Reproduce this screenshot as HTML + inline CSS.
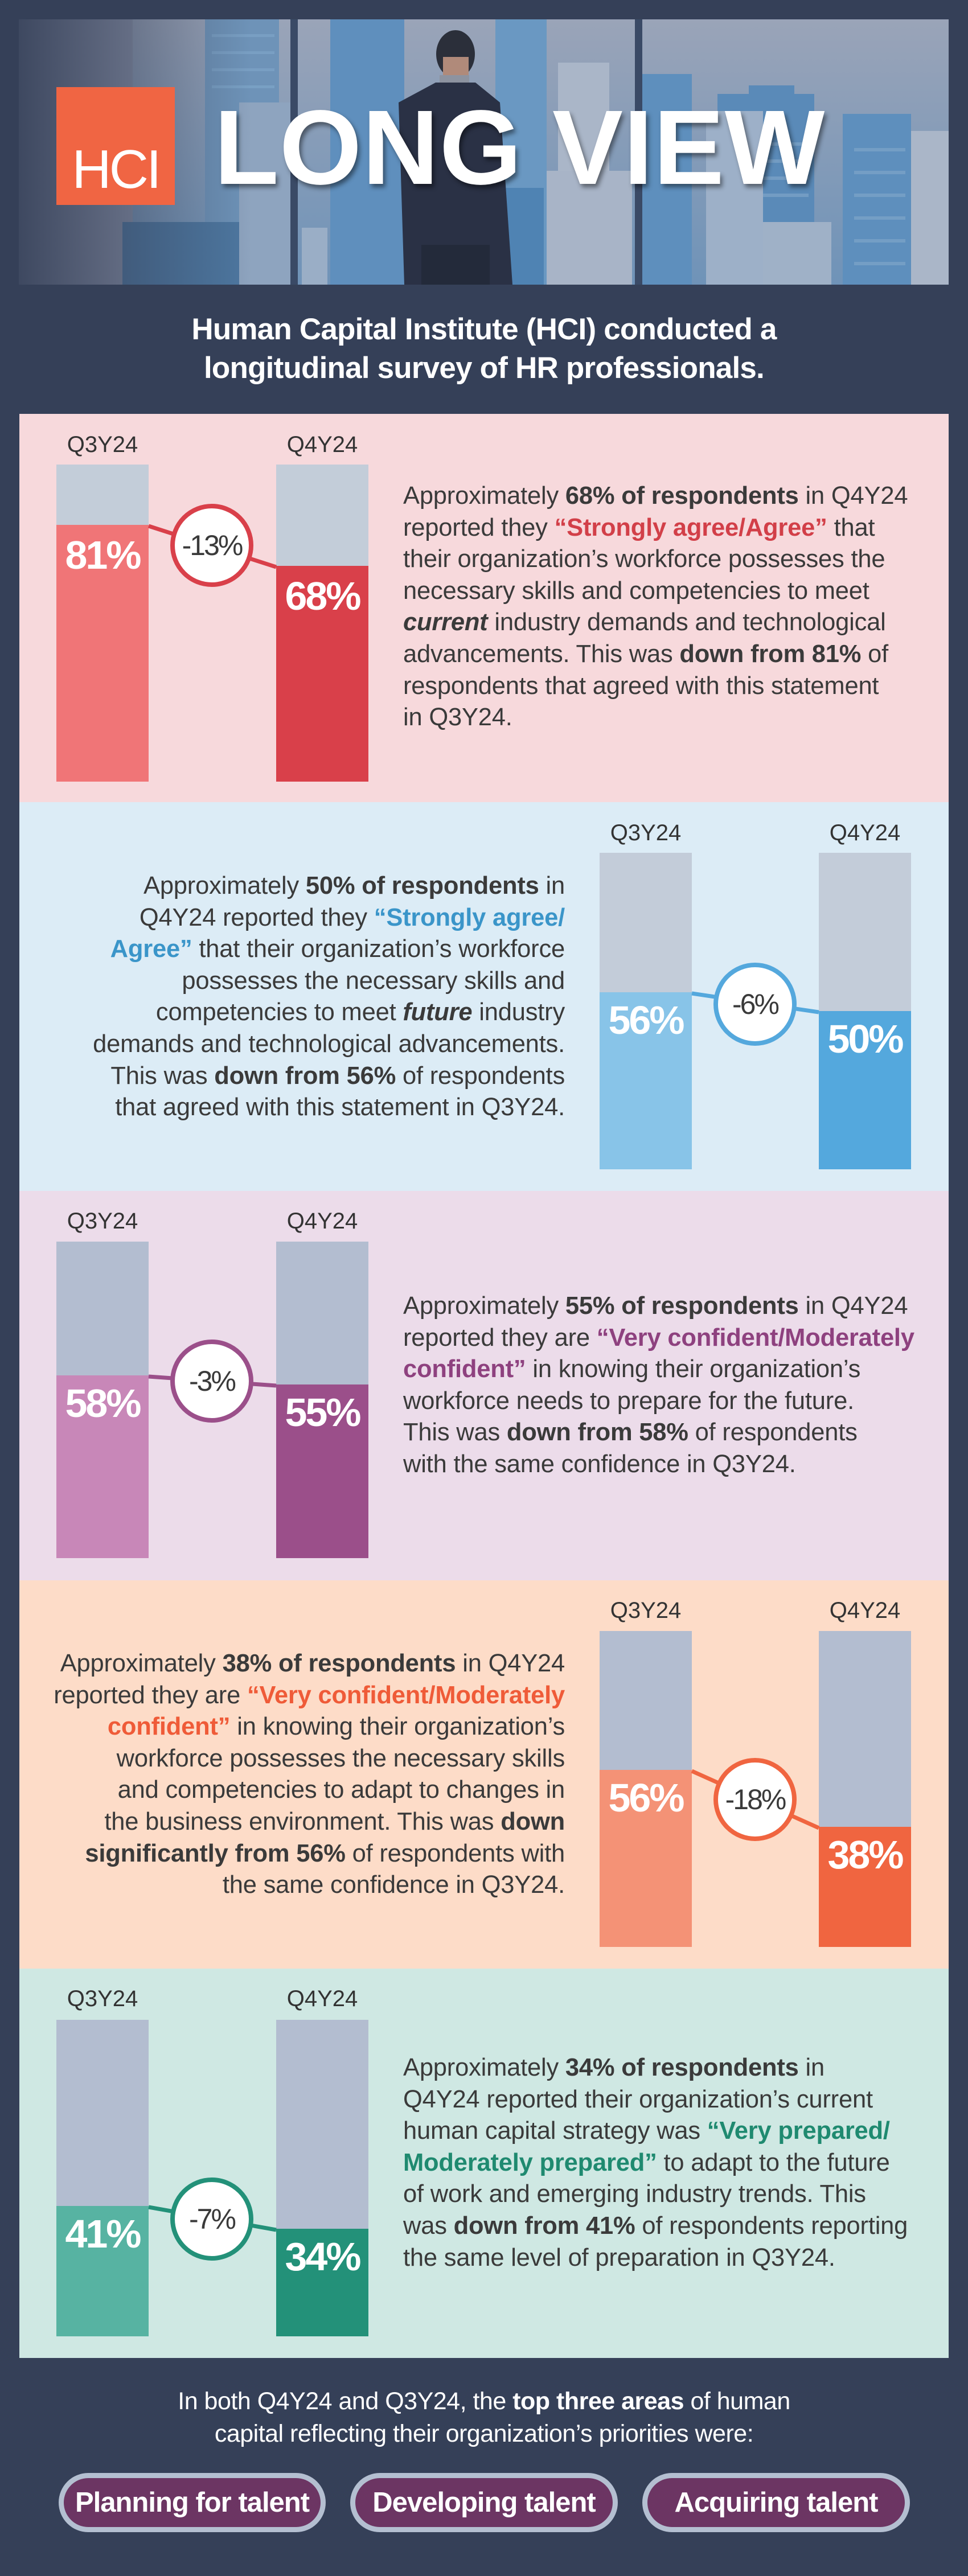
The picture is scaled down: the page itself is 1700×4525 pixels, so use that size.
<!DOCTYPE html>
<html><head><meta charset="utf-8">
<style>
*{margin:0;padding:0;box-sizing:border-box}
body{width:1700px;height:4525px;background:#354058;position:relative;overflow:hidden;font-family:"Liberation Sans",sans-serif;color:#3a3a3a}
.abs{position:absolute}
.sec{position:absolute;left:34px;width:1632px}
.lbl{position:absolute;font-size:40px;width:200px;text-align:center;color:#333;line-height:40px}
.bar{position:absolute;width:162px}
.pct{position:absolute;width:162px;text-align:center;color:#fff;font-weight:bold;font-size:70px;letter-spacing:-3px;line-height:70px}
.txt{position:absolute;font-size:43.5px;line-height:55.6px;white-space:nowrap;letter-spacing:-0.2px}
.txt b{font-weight:bold}
.circ{position:absolute;width:146px;height:146px;border-radius:50%;background:#fff;border:8px solid;text-align:center;line-height:130px;font-size:50px;color:#3a3a3a;letter-spacing:-3px}
.pill{position:absolute;top:4344px;height:104px;border-radius:52px;background:#b4bfd1;padding:9px}
.pill div{width:100%;height:100%;border-radius:44px;background:#6c3563;color:#fff;font-weight:bold;font-size:49px;text-align:center;line-height:86px;letter-spacing:-1px}
</style></head><body>

<svg class="abs" style="left:33px;top:34px" width="1633" height="466" viewBox="33 34 1633 466">
<defs>
<linearGradient id="sky" x1="0" y1="0" x2="0" y2="1"><stop offset="0" stop-color="#9aa4b8"/><stop offset="1" stop-color="#6f93b8"/></linearGradient>
<linearGradient id="fade" x1="0" y1="0" x2="1" y2="0"><stop offset="0" stop-color="#354058" stop-opacity="0.9"/><stop offset="0.25" stop-color="#354058" stop-opacity="0"/></linearGradient>
</defs>
<rect x="33" y="34" width="1633" height="466" fill="url(#sky)"/>
<rect x="33" y="34" width="200" height="466" fill="#8e95ab"/>
<rect x="360" y="34" width="130" height="466" fill="#6e93b8"/>
<rect x="580" y="34" width="130" height="466" fill="#5f8fbd"/>
<rect x="870" y="34" width="90" height="466" fill="#6a98c2"/>
<rect x="980" y="110" width="90" height="390" fill="#aab6c8"/>
<rect x="1125" y="130" width="90" height="370" fill="#5e8fbd"/>
<rect x="1260" y="165" width="170" height="335" fill="#5a8ab8"/>
<rect x="1315" y="150" width="80" height="30" fill="#5a8ab8"/>
<rect x="1480" y="200" width="120" height="300" fill="#5e8fbd"/>
<rect x="1600" y="230" width="66" height="270" fill="#aab6c8"/>
<rect x="1240" y="195" width="100" height="305" fill="#9db0c8"/>
<rect x="960" y="300" width="150" height="200" fill="#a8b4c7"/>
<rect x="1340" y="390" width="120" height="110" fill="#9fb1c7"/>
<rect x="215" y="390" width="210" height="110" fill="#4d77a0"/>
<rect x="420" y="180" width="90" height="320" fill="#8ea4bf"/>
<rect x="530" y="400" width="45" height="100" fill="#9aaec6"/>
<rect x="860" y="330" width="95" height="170" fill="#4f83b3"/>
<g fill="#7ea5c9" opacity="0.7">
<rect x="372" y="60" width="110" height="5"/><rect x="372" y="90" width="110" height="5"/><rect x="372" y="120" width="110" height="5"/><rect x="372" y="150" width="110" height="5"/>
<rect x="1340" y="250" width="80" height="6"/><rect x="1340" y="280" width="80" height="6"/><rect x="1340" y="310" width="80" height="6"/><rect x="1340" y="340" width="80" height="6"/>
<rect x="1500" y="260" width="90" height="6"/><rect x="1500" y="300" width="90" height="6"/><rect x="1500" y="340" width="90" height="6"/><rect x="1500" y="380" width="90" height="6"/><rect x="1500" y="420" width="90" height="6"/><rect x="1500" y="460" width="90" height="6"/>
</g>
<rect x="33" y="34" width="1633" height="466" fill="url(#fade)"/>
<rect x="510" y="34" width="13" height="466" fill="#3a4a66"/>
<rect x="1115" y="34" width="13" height="466" fill="#3a4a66"/>
<ellipse cx="800" cy="95" rx="34" ry="42" fill="#2b2f3a"/>
<rect x="778" y="100" width="45" height="40" fill="#b08a7a"/>
<rect x="772" y="132" width="52" height="14" fill="#8d93a0"/>
<path d="M765 145 L835 145 L878 180 L900 500 L710 500 L700 180 Z" fill="#2a3145"/>
<path d="M740 430 L860 430 L860 500 L740 500 Z" fill="#232a3a"/>
</svg>

<div class="abs" style="left:99px;top:153px;width:208px;height:207px;background:#f06543"></div>
<div class="abs" style="left:99px;top:250px;width:208px;text-align:center;color:#fff;font-size:96px;line-height:96px;letter-spacing:-4px">HCI</div>
<div class="abs" style="left:376px;top:167px;color:#fff;font-weight:bold;font-size:186px;line-height:186px;letter-spacing:1px;text-shadow:4px 6px 8px rgba(0,0,0,0.45);white-space:nowrap">LONG VIEW</div>

<div class="abs" style="left:0;top:545px;width:1700px;text-align:center;color:#fff;font-weight:bold;font-size:53px;line-height:68px;letter-spacing:-0.8px">Human Capital Institute (HCI) conducted a<br>longitudinal survey of HR professionals.</div>

<!-- S1 -->
<div class="sec" style="top:727px;height:682px;background:#f7d9dc"></div>
<div class="lbl" style="left:80px;top:761px">Q3Y24</div>
<div class="lbl" style="left:466px;top:761px">Q4Y24</div>
<div class="bar" style="left:99px;top:816px;height:557px;background:#c3cdd9"></div>
<div class="bar" style="left:485px;top:816px;height:557px;background:#c3cdd9"></div>
<div class="bar" style="left:99px;top:922px;height:451px;background:#f07577"></div>
<div class="bar" style="left:485px;top:994px;height:379px;background:#d9404a"></div>
<svg class="abs" style="left:0;top:0" width="700" height="1400"><line x1="261" y1="924" x2="485" y2="996" stroke="#d9404a" stroke-width="7"/></svg>
<div class="circ" style="left:299px;top:885px;border-color:#d9404a">-13%</div>
<div class="pct" style="left:99px;top:940px">81%</div>
<div class="pct" style="left:485px;top:1012px">68%</div>
<div class="txt" style="left:708px;top:844px">Approximately <b>68% of respondents</b> in Q4Y24<br>reported they <b style="color:#d23f48">“Strongly agree/Agree”</b> that<br>their organization’s workforce possesses the<br>necessary skills and competencies to meet<br><b><i>current</i></b> industry demands and technological<br>advancements. This was <b>down from 81%</b> of<br>respondents that agreed with this statement<br>in Q3Y24.</div>

<!-- S2 -->
<div class="sec" style="top:1409px;height:683px;background:#dcecf6"></div>
<div class="lbl" style="left:1034px;top:1443px">Q3Y24</div>
<div class="lbl" style="left:1419px;top:1443px">Q4Y24</div>
<div class="bar" style="left:1053px;top:1498px;height:556px;background:#c3ccd9"></div>
<div class="bar" style="left:1438px;top:1498px;height:556px;background:#c3ccd9"></div>
<div class="bar" style="left:1053px;top:1743px;height:311px;background:#88c4e8"></div>
<div class="bar" style="left:1438px;top:1776px;height:278px;background:#54a8dd"></div>
<svg class="abs" style="left:0;top:0" width="1700" height="2100"><line x1="1215" y1="1745" x2="1438" y2="1778" stroke="#54a8dd" stroke-width="7"/></svg>
<div class="circ" style="left:1253px;top:1691px;border-color:#54a8dd">-6%</div>
<div class="pct" style="left:1053px;top:1757px">56%</div>
<div class="pct" style="left:1438px;top:1790px">50%</div>
<div class="txt" style="right:708px;top:1529px;text-align:right">Approximately <b>50% of respondents</b> in<br>Q4Y24 reported they <b style="color:#3a95c9">“Strongly agree/</b><br><b style="color:#3a95c9">Agree”</b> that their organization’s workforce<br>possesses the necessary skills and<br>competencies to meet <b><i>future</i></b> industry<br>demands and technological advancements.<br>This was <b>down from 56%</b> of respondents<br>that agreed with this statement in Q3Y24.</div>

<!-- S3 -->
<div class="sec" style="top:2092px;height:684px;background:#ecdcea"></div>
<div class="lbl" style="left:80px;top:2125px">Q3Y24</div>
<div class="lbl" style="left:466px;top:2125px">Q4Y24</div>
<div class="bar" style="left:99px;top:2181px;height:556px;background:#b3bdd0"></div>
<div class="bar" style="left:485px;top:2181px;height:556px;background:#b3bdd0"></div>
<div class="bar" style="left:99px;top:2416px;height:321px;background:#c887b8"></div>
<div class="bar" style="left:485px;top:2432px;height:305px;background:#9b4f8a"></div>
<svg class="abs" style="left:0;top:0" width="700" height="2800"><line x1="261" y1="2418" x2="485" y2="2434" stroke="#9b4f8a" stroke-width="7"/></svg>
<div class="circ" style="left:299px;top:2353px;border-color:#9b4f8a">-3%</div>
<div class="pct" style="left:99px;top:2430px">58%</div>
<div class="pct" style="left:485px;top:2446px">55%</div>
<div class="txt" style="left:708px;top:2267px">Approximately <b>55% of respondents</b> in Q4Y24<br>reported they are <b style="color:#8e417f">“Very confident/Moderately</b><br><b style="color:#8e417f">confident”</b> in knowing their organization’s<br>workforce needs to prepare for the future.<br>This was <b>down from 58%</b> of respondents<br>with the same confidence in Q3Y24.</div>

<!-- S4 -->
<div class="sec" style="top:2776px;height:682px;background:#fddcc8"></div>
<div class="lbl" style="left:1034px;top:2809px">Q3Y24</div>
<div class="lbl" style="left:1419px;top:2809px">Q4Y24</div>
<div class="bar" style="left:1053px;top:2865px;height:555px;background:#b3bdd0"></div>
<div class="bar" style="left:1438px;top:2865px;height:555px;background:#b3bdd0"></div>
<div class="bar" style="left:1053px;top:3109px;height:311px;background:#f49276"></div>
<div class="bar" style="left:1438px;top:3209px;height:211px;background:#f06540"></div>
<svg class="abs" style="left:0;top:0" width="1700" height="3500"><line x1="1215" y1="3111" x2="1438" y2="3211" stroke="#f06540" stroke-width="7"/></svg>
<div class="circ" style="left:1253px;top:3088px;border-color:#f06540">-18%</div>
<div class="pct" style="left:1053px;top:3123px">56%</div>
<div class="pct" style="left:1438px;top:3223px">38%</div>
<div class="txt" style="right:708px;top:2895px;text-align:right">Approximately <b>38% of respondents</b> in Q4Y24<br>reported they are <b style="color:#ef5b38">“Very confident/Moderately</b><br><b style="color:#ef5b38">confident”</b> in knowing their organization’s<br>workforce possesses the necessary skills<br>and competencies to adapt to changes in<br>the business environment. This was <b>down</b><br><b>significantly from 56%</b> of respondents with<br>the same confidence in Q3Y24.</div>

<!-- S5 -->
<div class="sec" style="top:3458px;height:684px;background:#cfe8e3"></div>
<div class="lbl" style="left:80px;top:3491px">Q3Y24</div>
<div class="lbl" style="left:466px;top:3491px">Q4Y24</div>
<div class="bar" style="left:99px;top:3548px;height:556px;background:#b3bdd0"></div>
<div class="bar" style="left:485px;top:3548px;height:556px;background:#b3bdd0"></div>
<div class="bar" style="left:99px;top:3875px;height:229px;background:#57b3a2"></div>
<div class="bar" style="left:485px;top:3915px;height:189px;background:#239179"></div>
<svg class="abs" style="left:0;top:0" width="700" height="4200"><line x1="261" y1="3877" x2="485" y2="3917" stroke="#239179" stroke-width="7"/></svg>
<div class="circ" style="left:299px;top:3825px;border-color:#239179">-7%</div>
<div class="pct" style="left:99px;top:3889px">41%</div>
<div class="pct" style="left:485px;top:3929px">34%</div>
<div class="txt" style="left:708px;top:3605px">Approximately <b>34% of respondents</b> in<br>Q4Y24 reported their organization’s current<br>human capital strategy was <b style="color:#1f8a70">“Very prepared/</b><br><b style="color:#1f8a70">Moderately prepared”</b> to adapt to the future<br>of work and emerging industry trends. This<br>was <b>down from 41%</b> of respondents reporting<br>the same level of preparation in Q3Y24.</div>

<div class="abs" style="left:0;top:4190px;width:1700px;text-align:center;color:#fff;font-size:43px;line-height:57px;letter-spacing:-0.5px">In both Q4Y24 and Q3Y24, the <b>top three areas</b> of human<br>capital reflecting their organization’s priorities were:</div>

<div class="pill" style="left:103px;width:469px"><div>Planning for talent</div></div>
<div class="pill" style="left:615px;width:470px"><div>Developing talent</div></div>
<div class="pill" style="left:1128px;width:470px"><div>Acquiring talent</div></div>
</body></html>
